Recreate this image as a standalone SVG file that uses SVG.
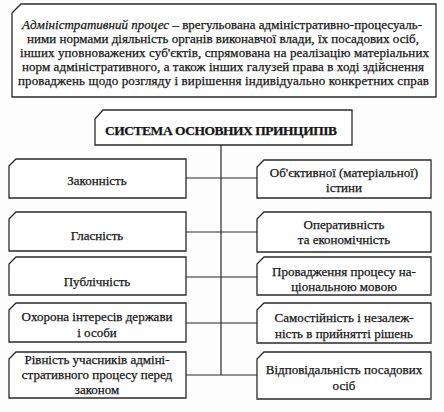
<svg xmlns="http://www.w3.org/2000/svg" width="444" height="412" viewBox="0 0 444 412">
<style>
.box{fill:#fff;stroke:#2a2a2a;stroke-width:1.3}
.t{font-family:'Liberation Serif','Times New Roman',Times,'DejaVu Serif',serif;font-size:13px;fill:#151515;stroke:#151515;stroke-width:0.25;text-anchor:middle}
.h{font-weight:bold;font-size:13.5px}
.con{stroke:#2a2a2a;stroke-width:1.2;fill:none}
</style>
<rect width="444" height="412" fill="#fdfdfd"/>
<g id="definition">
<path class="box" d="M12,13 L21,4 H436 V97 H12 Z"/>
<text class="t" x="222" y="29" textLength="400" lengthAdjust="spacing"><tspan font-style="italic">Адміністративний процес</tspan> – врегульована адміністративно-процесуаль-</text>
<text class="t" x="223" y="43" textLength="392" lengthAdjust="spacing">ними нормами діяльність органів виконавчої влади, їх посадових осіб,</text>
<text class="t" x="224.5" y="57" textLength="409" lengthAdjust="spacing">інших уповноважених суб'єктів, спрямована на реалізацію матеріальних</text>
<text class="t" x="223" y="71" textLength="402" lengthAdjust="spacing">норм адміністративного, а також інших галузей права в ході здійснення</text>
<text class="t" x="223.5" y="85" textLength="411" lengthAdjust="spacing">проваджень щодо розгляду і вирішення індивідуально конкретних справ</text>
</g>
<g id="connectors">
<path class="con" d="M221,145 V375"/>
<path class="con" d="M186,178 H257 M186,232 H257 M186,277 H257 M186,323 H257 M186,375 H257"/>
</g>
<g id="title">
<path class="box" d="M95,119 L103,110 H352 V145 H95 Z"/>
<text class="t h" x="221" y="135" textLength="232" lengthAdjust="spacing">СИСТЕМА ОСНОВНИХ ПРИНЦИПІВ</text>
</g>
<g id="l1">
<path class="box" d="M9,166 L16,159 H186 V198 H9 Z"/>
<text class="t" x="97" y="185">Законність</text>
</g>
<g id="l2">
<path class="box" d="M9,219 L16,212 H186 V251 H9 Z"/>
<text class="t" x="97" y="240">Гласність</text>
</g>
<g id="l3">
<path class="box" d="M9,264 L16,257 H186 V295 H9 Z"/>
<text class="t" x="97" y="286">Публічність</text>
</g>
<g id="l4">
<path class="box" d="M9,310 L16,303 H186 V342 H9 Z"/>
<text class="t" x="97" y="321">Охорона інтересів держави</text>
<text class="t" x="97" y="337">і особи</text>
</g>
<g id="l5">
<path class="box" d="M9,359 L16,352 H186 V398 H9 Z"/>
<text class="t" x="97" y="364">Рівність учасників  адміні-</text>
<text class="t" x="97" y="379">стративного процесу перед</text>
<text class="t" x="97" y="394">законом</text>
</g>
<g id="r1">
<path class="box" d="M257,167 L264,160 H431 V198 H257 Z"/>
<text class="t" x="344" y="177">Об'єктивної (матеріальної)</text>
<text class="t" x="344" y="192">істини</text>
</g>
<g id="r2">
<path class="box" d="M257,219 L264,212 H431 V252 H257 Z"/>
<text class="t" x="344" y="229">Оперативність</text>
<text class="t" x="344" y="244">та економічність</text>
</g>
<g id="r3">
<path class="box" d="M257,264 L264,257 H431 V295 H257 Z"/>
<text class="t" x="344" y="276">Провадження процесу на-</text>
<text class="t" x="344" y="291">ціональною мовою</text>
</g>
<g id="r4">
<path class="box" d="M257,310 L264,303 H431 V343 H257 Z"/>
<text class="t" x="344" y="322">Самостійність і незалеж-</text>
<text class="t" x="344" y="338">ність  в прийнятті рішень</text>
</g>
<g id="r5">
<path class="box" d="M257,359 L264,352 H431 V399 H257 Z"/>
<text class="t" x="344" y="374">Відповідальність посадових</text>
<text class="t" x="344" y="390">осіб</text>
</g>
</svg>
